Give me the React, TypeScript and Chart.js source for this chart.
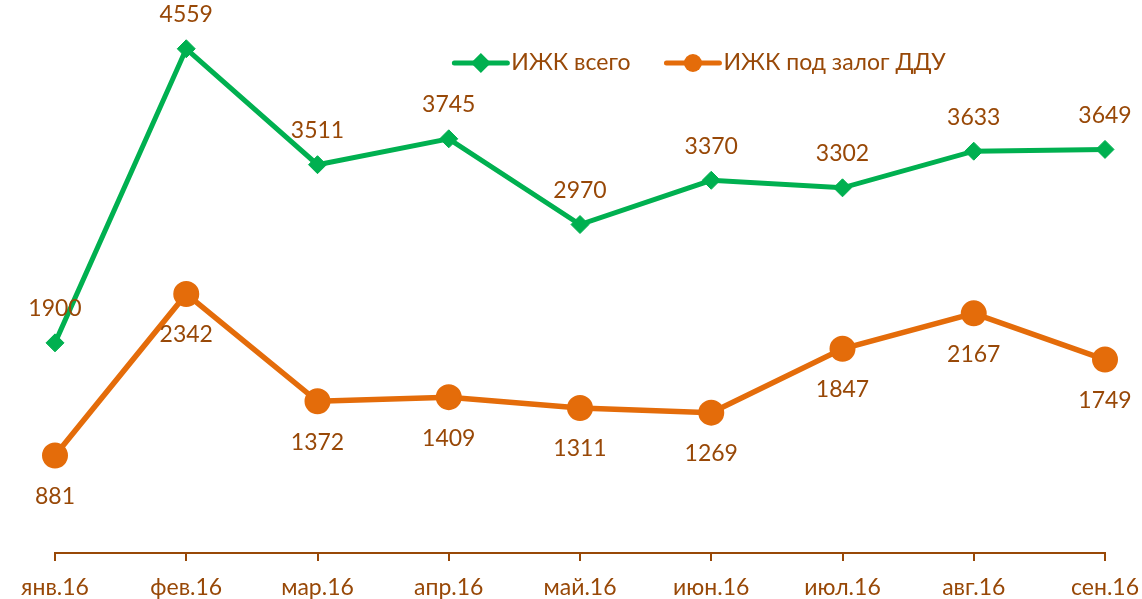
import React, { useEffect, useRef } from 'react';
import { Chart, registerables } from 'chart.js';

Chart.register(...registerables);

const categories = ['янв.16', 'фев.16', 'мар.16', 'апр.16', 'май.16', 'июн.16', 'июл.16', 'авг.16', 'сен.16'];
const totalValues = [1900, 4559, 3511, 3745, 2970, 3370, 3302, 3633, 3649];
const dduValues = [881, 2342, 1372, 1409, 1311, 1269, 1847, 2167, 1749];
const seriesNames = ['ИЖК всего', 'ИЖК под залог ДДУ'];

const GREEN = '#00B050';
const ORANGE = '#E46C0A';
const TEXT = '#984807';
const FONT = 'Lato, "Open Sans", sans-serif';
const FONT_SIZE = 23;

const valueLabelPlugin = {
  id: 'valueLabels',
  afterDatasetsDraw(chart: any) {
    const ctx = chart.ctx;
    ctx.save();
    ctx.font = `${FONT_SIZE}px ${FONT}`;
    ctx.fillStyle = TEXT;
    ctx.textAlign = 'center';
    ctx.textBaseline = 'middle';
    chart.data.datasets.forEach((ds: any, i: number) => {
      const meta = chart.getDatasetMeta(i);
      const off = i === 0 ? -34 : 41;
      meta.data.forEach((pt: any, j: number) => {
        ctx.fillText(String(ds.data[j]), pt.x, pt.y + off);
      });
    });
    ctx.restore();
  },
};

const legendPlugin = {
  id: 'lineLegend',
  afterDraw(chart: any) {
    const ctx = chart.ctx;
    ctx.save();
    ctx.font = `${FONT_SIZE}px ${FONT}`;
    const lineW = 53;
    const gapText = 4;
    const gapItem = 36;
    const items = chart.data.datasets.map((ds: any) => ({
      label: ds.label,
      color: ds.borderColor,
      style: ds.pointStyle,
      w: ctx.measureText(ds.label).width,
    }));
    const total =
      items.reduce((s: number, it: any) => s + lineW + gapText + it.w, 0) + gapItem * (items.length - 1);
    let x = 700 - total / 2;
    const y = 63;
    items.forEach((it: any) => {
      ctx.strokeStyle = it.color;
      ctx.lineWidth = 5;
      ctx.lineCap = 'round';
      ctx.beginPath();
      ctx.moveTo(x, y);
      ctx.lineTo(x + lineW, y);
      ctx.stroke();
      ctx.fillStyle = it.color;
      const cx = x + lineW / 2;
      ctx.beginPath();
      if (it.style === 'rectRot') {
        const r = 10;
        ctx.moveTo(cx, y - r);
        ctx.lineTo(cx + r, y);
        ctx.lineTo(cx, y + r);
        ctx.lineTo(cx - r, y);
        ctx.closePath();
      } else {
        ctx.arc(cx, y, 9, 0, Math.PI * 2);
      }
      ctx.fill();
      ctx.fillStyle = TEXT;
      ctx.textAlign = 'left';
      ctx.textBaseline = 'middle';
      ctx.fillText(it.label, x + lineW + gapText, y);
      x += lineW + gapText + it.w + gapItem;
    });
    ctx.restore();
  },
};

export default function App() {
  const canvasRef = useRef<HTMLCanvasElement | null>(null);

  useEffect(() => {
    if (!canvasRef.current) return;
    const chart = new Chart(canvasRef.current, {
      type: 'line',
      data: {
        labels: categories,
        datasets: [
          {
            label: seriesNames[0],
            data: totalValues,
            borderColor: GREEN,
            backgroundColor: GREEN,
            borderWidth: 5,
            tension: 0,
            pointStyle: 'rectRot',
            pointRadius: 9,
            pointBackgroundColor: GREEN,
            pointBorderColor: GREEN,
            pointBorderWidth: 1,
            clip: false,
          },
          {
            label: seriesNames[1],
            data: dduValues,
            borderColor: ORANGE,
            backgroundColor: ORANGE,
            borderWidth: 5.5,
            tension: 0,
            pointStyle: 'circle',
            pointRadius: 12,
            pointBackgroundColor: ORANGE,
            pointBorderColor: ORANGE,
            pointBorderWidth: 2,
            clip: false,
          },
        ],
      },
      options: {
        animation: false,
        responsive: true,
        maintainAspectRatio: false,
        layout: { autoPadding: false, padding: { left: 55, right: 37, top: 0, bottom: 0 } },
        plugins: {
          legend: { display: false },
          tooltip: { enabled: false },
        },
        scales: {
          x: {
            offset: false,
            grid: {
              display: true,
              drawOnChartArea: false,
              drawTicks: true,
              tickLength: 8,
              color: TEXT,
              lineWidth: 2,
            },
            border: { display: true, color: TEXT, width: 2 },
            ticks: {
              color: TEXT,
              font: { family: FONT, size: FONT_SIZE },
              padding: 13,
              maxRotation: 0,
              autoSkip: false,
            },
            afterFit(scale: any) {
              scale.paddingLeft = 0;
              scale.paddingRight = 0;
              scale.height = 46;
            },
          },
          y: { display: false, min: 0, max: 5000 },
        },
      },
      plugins: [valueLabelPlugin, legendPlugin],
    });
    return () => chart.destroy();
  }, []);

  return (
    <div style={{ position: 'absolute', left: 0, top: 0, width: 1142, height: 599 }}>
      <canvas ref={canvasRef} />
    </div>
  );
}
